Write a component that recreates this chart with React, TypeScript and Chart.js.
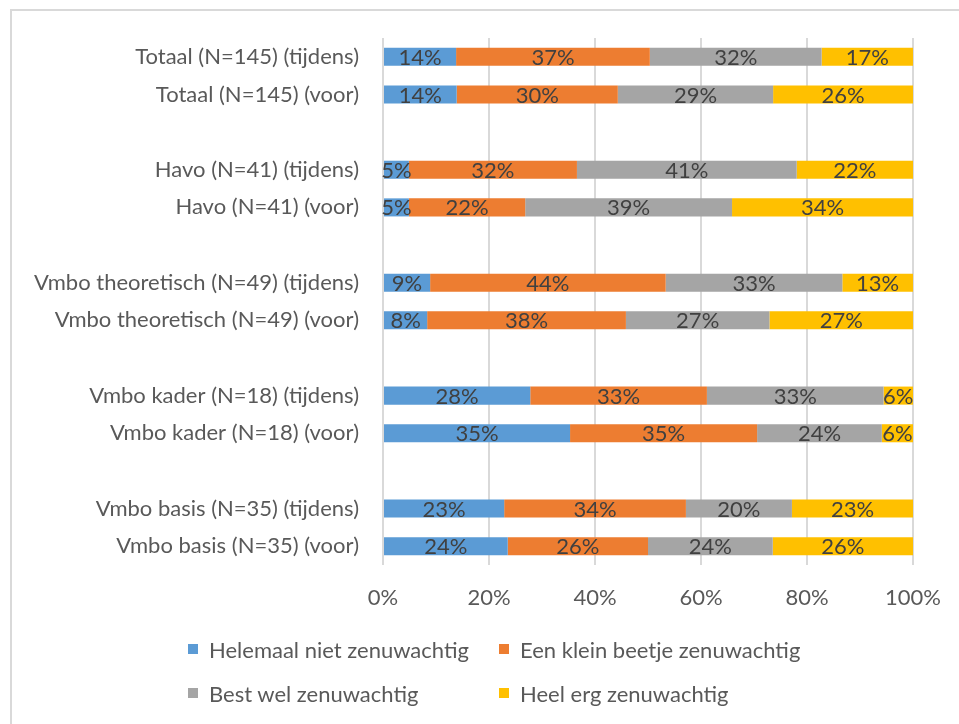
import React, { useEffect, useRef } from 'react';
import { Chart, registerables, Plugin } from 'chart.js';

Chart.register(...registerables);

// rows top to bottom, '' = spacer row between the groups
const categories: string[] = [
  'Totaal (N=145) (tijdens)',
  'Totaal (N=145) (voor)',
  '',
  'Havo (N=41) (tijdens)',
  'Havo (N=41) (voor)',
  '',
  'Vmbo theoretisch (N=49) (tijdens)',
  'Vmbo theoretisch (N=49) (voor)',
  '',
  'Vmbo kader (N=18) (tijdens)',
  'Vmbo kader (N=18) (voor)',
  '',
  'Vmbo basis (N=35) (tijdens)',
  'Vmbo basis (N=35) (voor)',
];

const seriesNames: string[] = [
  'Helemaal niet zenuwachtig',
  'Een klein beetje zenuwachtig',
  'Best wel zenuwachtig',
  'Heel erg zenuwachtig',
];

// percentages per row
const helemaalNiet: (number | null)[] = [13.79, 13.9, null, 4.88, 4.88, null, 8.89, 8.33, null, 27.78, 35.29, null, 22.86, 23.53];
const kleinBeetje: (number | null)[] = [36.55, 30.4, null, 31.71, 21.95, null, 44.44, 37.5, null, 33.33, 35.29, null, 34.29, 26.47];
const bestWel: (number | null)[] = [32.41, 29.3, null, 41.46, 39.02, null, 33.33, 27.08, null, 33.33, 23.53, null, 20.0, 23.53];
const heelErg: (number | null)[] = [17.24, 26.4, null, 21.95, 34.15, null, 13.33, 27.08, null, 5.56, 5.88, null, 22.86, 26.47];

const colors: string[] = ['#5B9BD5', '#ED7D31', '#A5A5A5', '#FFC000'];

const FONT = 'Lato, "Open Sans", sans-serif';
const FS = 22;

const labelPlugin: Plugin<'bar'> = {
  id: 'segmentLabels',
  afterDatasetsDraw(chart) {
    const ctx = chart.ctx;
    ctx.save();
    ctx.font = `${FS}px ${FONT}`;
    ctx.fillStyle = '#404040';
    ctx.textAlign = 'center';
    ctx.textBaseline = 'middle';
    chart.data.datasets.forEach((ds, di) => {
      const meta = chart.getDatasetMeta(di);
      meta.data.forEach((el: any, i) => {
        const v = ds.data[i] as number | null;
        if (v == null) return;
        const cx = (el.x + el.base) / 2;
        ctx.fillText(Math.round(v) + '%', cx, el.y + 1);
      });
    });
    ctx.restore();
  },
};

const App: React.FC = () => {
  const canvasRef = useRef<HTMLCanvasElement>(null);

  useEffect(() => {
    if (!canvasRef.current) return;
    const series = [helemaalNiet, kleinBeetje, bestWel, heelErg];
    const chart = new Chart(canvasRef.current, {
      type: 'bar',
      data: {
        labels: categories,
        datasets: series.map((d, i) => ({
          label: seriesNames[i],
          data: d,
          backgroundColor: colors[i],
          borderWidth: 0,
          categoryPercentage: 1,
          barPercentage: 0.48,
        })),
      },
      options: {
        indexAxis: 'y',
        responsive: false,
        animation: false,
        layout: { padding: { top: 27, right: 43, bottom: 111, left: 0 } },
        plugins: {
          legend: { display: false },
          tooltip: { enabled: false },
        },
        scales: {
          x: {
            stacked: true,
            min: 0,
            max: 100,
            ticks: {
              stepSize: 20,
              callback: (v) => v + '%',
              color: '#595959',
              font: { family: FONT, size: FS },
              padding: 20,
            },
            grid: { color: '#d9d9d9', lineWidth: 2, drawTicks: false },
            border: { display: false },
            afterFit: (s: any) => {
              s.height = 50;
            },
          },
          y: {
            stacked: true,
            ticks: {
              color: '#595959',
              font: { family: FONT, size: FS },
              padding: 24,
              autoSkip: false,
            },
            grid: { display: false, drawTicks: false },
            border: { display: false },
            afterFit: (s: any) => {
              s.width = 371;
              s.paddingTop = 0;
              s.paddingBottom = 0;
            },
          },
        },
      },
      plugins: [labelPlugin],
    });
    return () => chart.destroy();
  }, []);

  return (
    <div style={{ position: 'fixed', left: 0, top: 0, width: 959, height: 724, background: '#fff', overflow: 'hidden' }}>
      <div
        style={{
          position: 'absolute',
          left: 10,
          top: 9,
          width: 960,
          height: 730,
          borderLeft: '2px solid #d9d9d9',
          borderTop: '2px solid #d9d9d9',
        }}
      >
        <canvas ref={canvasRef} width={949} height={715} />
      </div>
      <div style={{ position: 'absolute', left: 0, top: 0, fontFamily: FONT, fontSize: FS, color: '#595959' }}>
        {seriesNames.map((name, i) => {
          const left = i % 2 === 0 ? 188 : 499;
          const top = i < 2 ? 649 : 693;
          return (
            <div key={name} style={{ position: 'absolute', left, top: top - 14, height: 28, display: 'flex', alignItems: 'center', whiteSpace: 'nowrap' }}>
              <span style={{ display: 'inline-block', width: 10, height: 10, background: colors[i], marginRight: 11 }} />
              <span>{name}</span>
            </div>
          );
        })}
      </div>
    </div>
  );
};

export default App;
